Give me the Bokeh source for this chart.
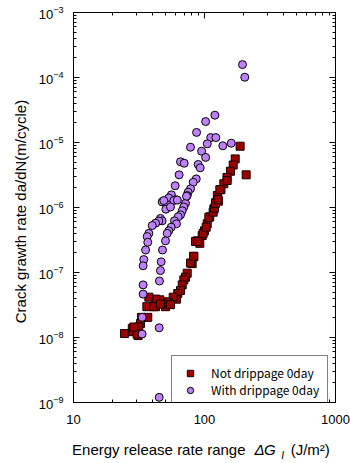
import math
from bokeh.plotting import figure
from bokeh.models import (LogAxis, FixedTicker, CustomJSTickFormatter, Legend,
                          LegendItem, Label, Range1d)
from bokeh.embed import file_html
from bokeh.resources import INLINE

# ---- data ----
x_not = [187, 208, 171.5, 165.6, 157.8, 148.5, 140.4, 133.5, 125.3, 127.5,
         121.3, 117.7, 109.7, 104.9, 100, 96, 87.9, 92.1, 85.4, 88.9,
         82.8, 80.5, 78.2, 73.8, 71.6, 69.5, 67.6, 65.6, 62.5, 61.1,
         57.7, 53.4, 51.3, 50.4, 47.5, 45.6, 42.3, 42.3, 37.6, 36.3,
         36.9, 33, 32.5, 31.5, 28.1, 28.5, 24.5, 31.1, 30.6, 28.9,
         41, 46.1, 55, 82.8, 97.7, 103, 107.9, 116.4, 119.2, 121.3,
         130.9, 149, 127]
y_not = [8.77e-6, 3.18e-6, 5.59e-6, 4.5e-6, 3.61e-6, 2.9e-6, 2.32e-6, 1.88e-6, 1.53e-6, 1.25e-6,
         1.18e-6, 9.4e-7, 7.2e-7, 5.61e-7, 4.38e-7, 3.71e-7, 3.07e-7, 2.81e-7, 3.0e-7, 3.0e-7,
         1.74e-7, 1.37e-7, 1.4e-7, 9.75e-8, 8.47e-8, 7.7e-8, 6.45e-8, 5.28e-8, 4.75e-8, 3.89e-8,
         4.17e-8, 3.44e-8, 3.55e-8, 2.98e-8, 3.27e-8, 3.8e-8, 3.9e-8, 2.98e-8, 4.17e-8, 2.98e-8,
         2.04e-8, 2.04e-8, 1.64e-8, 1.45e-8, 1.38e-8, 1.23e-8, 1.15e-8, 1.07e-8, 1.13e-8, 1.45e-8,
         2.98e-8, 3.27e-8, 3.2e-8, 1.78e-7, 4.0e-7, 4.98e-7, 7.0e-7, 8.47e-7, 9.8e-7, 1.16e-6,
         1.88e-6, 2.6e-6, 1.32e-6]

x_with = [195, 203, 120, 102, 87, 111.6, 122, 105, 78.2, 138,
          160, 95, 102, 89.5, 92.7, 65.6, 70, 64, 86.5, 82,
          59.7, 78.2, 75, 73.8, 55.9, 53.4, 47.5, 60.1, 58.3, 51.9,
          71.6, 69.5, 50.7, 67.6, 65.6, 63, 59, 61.1, 46.1, 47.5,
          44.8, 42.3, 39.9, 55.7, 53.4, 51.9, 37.6, 36.5, 50.4, 36.9,
          47.8, 35.5, 34.4, 46.7, 34, 46.1, 45.3, 34, 34, 45.1,
          33.4, 33.4, 45.1, 55, 72.9, 48.9, 62]
y_with = [1.58e-4, 1.01e-4, 2.63e-5, 2.1e-5, 1.43e-5, 1.19e-5, 1.19e-5, 9.55e-6, 8.47e-6, 8.9e-6,
          9.76e-6, 7.35e-6, 5.9e-6, 4.59e-6, 4.08e-6, 5.05e-6, 4.8e-6, 3.18e-6, 2.75e-6, 2.44e-6,
          2.16e-6, 1.94e-6, 1.72e-6, 1.53e-6, 1.57e-6, 1.4e-6, 1.22e-6, 1.32e-6, 1.28e-6, 1.1e-6,
          1.16e-6, 1.02e-6, 9.4e-7, 8.9e-7, 7.7e-7, 7.2e-7, 6.23e-7, 5.61e-7, 6.8e-7, 6.23e-7,
          6.2e-7, 5.73e-7, 5.28e-7, 4.98e-7, 4.38e-7, 4.0e-7, 4.0e-7, 3.57e-7, 3.07e-7, 2.92e-7,
          2.22e-7, 2.22e-7, 1.58e-7, 1.46e-7, 1.27e-7, 1.07e-7, 7.4e-8, 6.45e-8, 4.65e-8, 1.41e-8,
          2.04e-8, 1.13e-8, 1.2e-9, 1.02e-6, 1.49e-6, 1.28e-6, 1.3e-6]

series_labels = ["Not drippage 0day", "With drippage 0day"]
x_ticks = [10, 100, 1000]
y_ticks = [1e-9, 1e-8, 1e-7, 1e-6, 1e-5, 1e-4, 1e-3]
x_minor = [m * t for t in x_ticks[:-1] for m in range(2, 10)]
y_minor = [m * t for t in y_ticks[:-1] for m in range(2, 10)]

FONT = "Liberation Sans"

p = figure(width=350, height=463, x_axis_type="log", y_axis_type="log",
           x_range=Range1d(10, 1000), y_range=Range1d(1e-9, 1e-3),
           output_backend="svg", toolbar_location=None,
           min_border_left=73, min_border_right=15,
           min_border_top=12, min_border_bottom=61)
p.grid.visible = False
p.outline_line_color = "black"
p.background_fill_color = "white"
p.border_fill_color = "white"


def style(ax, labels=True):
    ax.axis_line_color = "black"
    ax.major_tick_line_color = "black"
    ax.minor_tick_line_color = "black"
    ax.major_tick_in = 6
    ax.major_tick_out = 0
    ax.minor_tick_in = 3
    ax.minor_tick_out = 0
    if labels:
        ax.major_label_text_font = FONT
        ax.major_label_text_font_size = "13px"
        ax.major_label_text_color = "black"
    else:
        ax.major_label_text_font_size = "1px"
        ax.major_label_text_alpha = 0
        ax.major_label_standoff = 0


xb = p.xaxis[0]
xb.ticker = FixedTicker(ticks=x_ticks, minor_ticks=x_minor)
xb.formatter = CustomJSTickFormatter(code="return String(Math.round(tick));")
style(xb)
xb.major_label_standoff = 12

yl = p.yaxis[0]
yl.ticker = FixedTicker(ticks=y_ticks, minor_ticks=y_minor)
style(yl)
yl.major_label_standoff = 10

xt = LogAxis(ticker=FixedTicker(ticks=x_ticks, minor_ticks=x_minor))
style(xt, labels=False)
p.add_layout(xt, "above")
yr = LogAxis(ticker=FixedTicker(ticks=y_ticks, minor_ticks=y_minor))
style(yr, labels=False)
p.add_layout(yr, "right")

sq = p.scatter(x_not, y_not, marker="square", size=8, fill_color="#990000",
               line_color="#1a0000", line_width=1)
ci = p.scatter(x_with, y_with, marker="circle", size=8, fill_color="#bf80ff",
               line_color="black", line_width=1)

legend = Legend(items=[LegendItem(label=series_labels[0], renderers=[sq]),
                       LegendItem(label=series_labels[1], renderers=[ci])],
                location=(98, -5), margin=0, padding=8, spacing=0,
                glyph_width=20, glyph_height=16, label_height=16,
                label_standoff=11,
                label_text_font="Noto Sans CJK JP", label_text_font_size="12px",
                label_text_color="black",
                border_line_color="black", border_line_width=1,
                background_fill_color="white", background_fill_alpha=1.0)
p.add_layout(legend, "center")


def title_label(txt, xx, yy, align, style_="normal", size="15px", angle=0.0):
    return Label(x=xx, y=yy, text=txt, angle=angle, text_align=align,
                 text_baseline="middle", text_font=FONT, text_font_style=style_,
                 text_font_size=size, text_color="black")


# axis titles, hosted in the side panels (there they are not clipped to the frame);
# each piece is put into a panel where it takes little room
xlab_y = 1.89e-10
p.add_layout(title_label("Crack grawth rate da/dN(m/cycle)", 3.94, 8.67e-7, "center",
                         angle=math.pi / 2), "left")
p.add_layout(title_label("G", 285, xlab_y, "left", "italic"), "left")
p.add_layout(title_label("\u0394", 240.9, xlab_y, "left", "italic"), "right")
p.add_layout(title_label("I", 385, 1.55e-10, "left", "italic", "10.5px"), "right")
p.add_layout(title_label("Energy release rate range", 205.6, xlab_y, "right"), "below")
p.add_layout(title_label("(J/m\u00b2)", 455, xlab_y, "left"), "below")

open("out.html", "w").write(file_html(p, INLINE))
